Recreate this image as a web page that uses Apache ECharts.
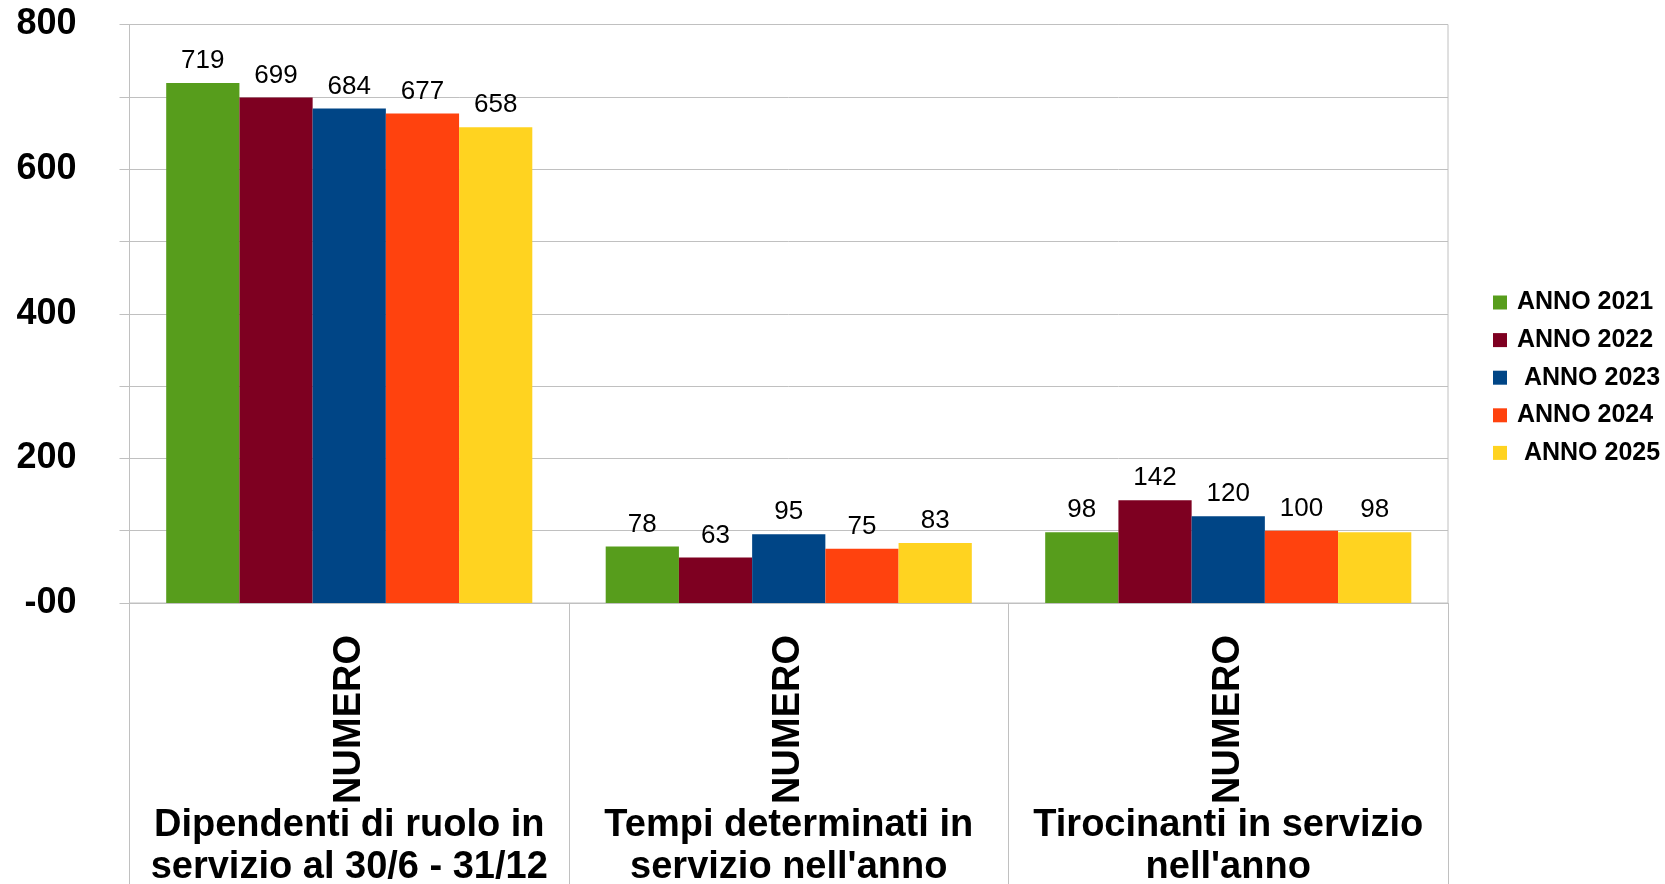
<!DOCTYPE html>
<html lang="it">
<head>
    <meta charset="UTF-8">
    <title>Personale</title>
    <script src="https://cdn.jsdelivr.net/npm/echarts@6/dist/echarts.min.js"></script>
    <style>
        html, body { margin: 0; padding: 0; background: #fff; }
        #main { width: 1665px; height: 884px; }
    </style>
</head>
<body>
<div id="main"></div>
<script type="text/javascript">

    // dati
    const categories = ['Dipendenti di ruolo in\nservizio al 30/6 - 31/12', 'Tempi determinati in\nservizio nell\'anno', 'Tirocinanti in servizio\nnell\'anno'];
    const subLabels = ['NUMERO', 'NUMERO', 'NUMERO'];
    const seriesNames = ['ANNO 2021', 'ANNO 2022', ' ANNO 2023', 'ANNO 2024', ' ANNO 2025'];
    const anno2021 = [719, 78, 98];
    const anno2022 = [699, 63, 142];
    const anno2023 = [684, 95, 120];
    const anno2024 = [677, 75, 100];
    const anno2025 = [658, 83, 98];
    const yTicks = [0, 200, 400, 600, 800];
    const yTickLabels = ['-00', '200', '400', '600', '800'];

    const colors = ['#579D1C', '#7E0021', '#004586', '#FF420E', '#FFD320'];
    const values = [anno2021, anno2022, anno2023, anno2024, anno2025];
    const font = 'Liberation Sans';
    const gridColor = '#c0c0c0';

    var chartDom = document.getElementById('main');
    var myChart = echarts.init(chartDom, null, {renderer: 'canvas'});

    var option = {
        animation: false,
        color: colors,
        grid: {
            left: 129.5,
            right: 217,
            top: 24.5,
            bottom: 281,
            outerBoundsMode: 'none',
            containLabel: false,
            show: true,
            borderColor: gridColor,
            borderWidth: 1
        },
        legend: {
            orient: 'vertical',
            left: 1488,
            top: 285,
            icon: 'rect',
            itemWidth: 14,
            itemHeight: 14,
            itemGap: 12.6,
            data: seriesNames,
            textStyle: {
                fontFamily: font,
                fontWeight: 'bold',
                fontSize: 25,
                color: '#000',
                padding: [0, 0, 0, 5]
            }
        },
        xAxis: [
            {
                type: 'category',
                data: subLabels,
                position: 'bottom',
                axisLine: {show: true, lineStyle: {color: gridColor}},
                axisTick: {show: true, length: 281, lineStyle: {color: gridColor}},
                axisLabel: {
                    interval: 0,
                    rotate: 90,
                    margin: 32,
                    fontFamily: font,
                    fontWeight: 'bold',
                    fontSize: 38,
                    color: '#000'
                }
            },
            {
                type: 'category',
                data: categories,
                position: 'bottom',
                axisLine: {show: false},
                axisTick: {show: false},
                axisLabel: {
                    interval: 0,
                    hideOverlap: false,
                    margin: 202,
                    fontFamily: font,
                    fontWeight: 'bold',
                    fontSize: 38,
                    lineHeight: 42,
                    color: '#000',
                    verticalAlign: 'top'
                }
            }
        ],
        yAxis: {
            type: 'value',
            min: 0,
            max: 800,
            interval: 100,
            axisLine: {show: true, lineStyle: {color: gridColor}},
            axisTick: {show: true, length: 10, lineStyle: {color: gridColor}},
            splitLine: {show: true, lineStyle: {color: gridColor}},
            axisLabel: {
                margin: 53,
                fontFamily: font,
                fontWeight: 'bold',
                fontSize: 36,
                color: '#000',
                formatter: function (v) {
                    var i = yTicks.indexOf(v);
                    return i >= 0 ? yTickLabels[i] : '';
                }
            }
        },
        series: values.map(function (d, i) {
            return {
                name: seriesNames[i],
                type: 'bar',
                xAxisIndex: 0,
                data: d,
                barGap: '0%',
                barCategoryGap: '16.7%',
                label: {
                    show: true,
                    position: 'top',
                    distance: 9,
                    fontFamily: font,
                    fontSize: 26,
                    color: '#000'
                }
            };
        })
    };

    myChart.setOption(option, true);

</script>
</body>
</html>
